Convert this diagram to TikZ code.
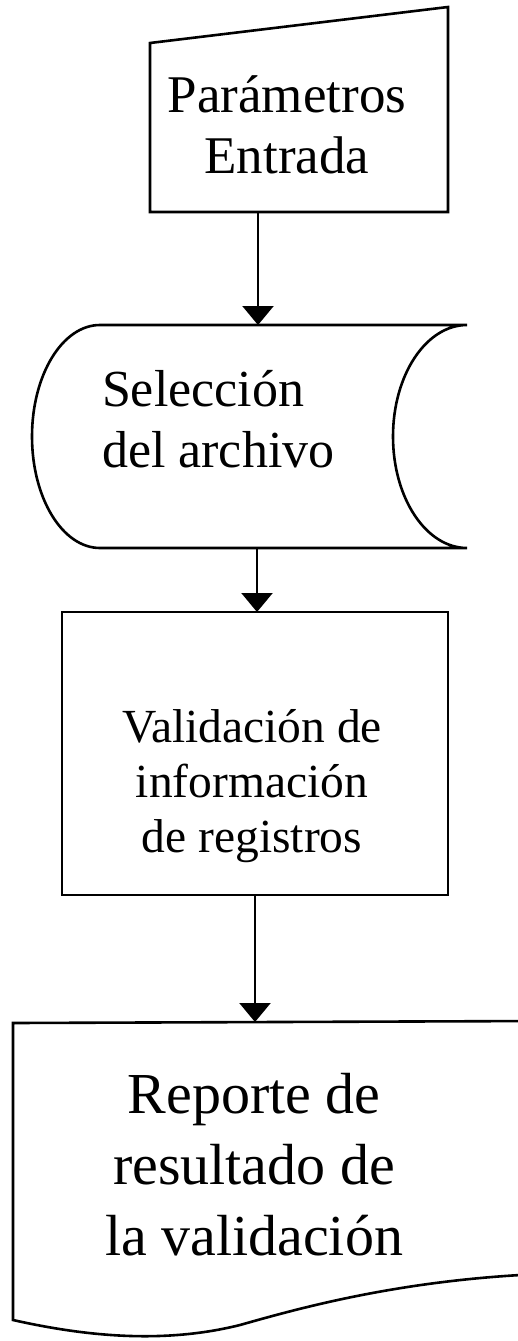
\documentclass[tikz,border=0pt]{standalone}
\usepackage{fontspec}
\setmainfont{Liberation Serif}
\usetikzlibrary{arrows.meta}
\tikzset{
  outline/.style={draw=black, line width=2.6pt, line join=miter},
  frame/.style={inner sep=0pt, outer sep=0pt, draw=none},
  flow/.style={draw=black, line width=2.3pt, -{Triangle[width=31pt,length=19pt]}},
  txt/.style={inner sep=0pt, outer sep=0pt, text=black}
}
\begin{document}
\begin{tikzpicture}[x=1pt,y=1pt]
\useasboundingbox (0,0) rectangle (518,-1341);
\clip (0,0) rectangle (518,-1341);
\fill[white] (0,0) rectangle (518,-1341);

% frames (named geometry of each shape)
\node[frame, minimum width=298pt, minimum height=205pt] (n1) at (299,-109.5) {};
\node[frame, minimum width=435pt, minimum height=223pt] (n2) at (249.5,-436.5) {};
\node[frame, minimum width=386pt, minimum height=283pt] (n3) at (255,-753.5) {};
\node[frame, minimum width=505pt, minimum height=316pt] (n4) at (265.5,-1180) {};

% shape 1: manual input
\draw[outline] (150,-43) -- (448,-7) -- (448,-212) -- (150,-212) -- cycle;

% shape 2: stored data
\draw[outline] (100,-325) -- (467,-325)
  arc[start angle=90, end angle=270, x radius=74, y radius=111.5]
  -- (100,-548)
  arc[start angle=270, end angle=90, x radius=68, y radius=111.5]
  -- cycle;

% shape 3: process
\draw[outline] (62,-612) rectangle (448,-895);

% shape 4: document (right side beyond the page)
\draw[outline] (540,-1021) -- (13,-1023) -- (13,-1320)
  .. controls (80,-1335) and (160,-1345) .. (240,-1325)
  .. controls (300,-1308) and (400,-1280) .. (540,-1274);

% texts
\node[txt, anchor=base] (t1) at (287,-112)
  {\fontsize{53}{61}\selectfont\begin{tabular}[t]{@{}c@{}}Parámetros\\Entrada\end{tabular}};
\node[txt, anchor=base west] (t2) at (102,-406)
  {\fontsize{52}{61}\selectfont\begin{tabular}[t]{@{}l@{}}Selección\\del archivo\end{tabular}};
\node[txt, anchor=base] (t3) at (252,-742)
  {\fontsize{47.5}{55}\selectfont\begin{tabular}[t]{@{}c@{}}Validación de\\información\\de registros\end{tabular}};
\node[txt, anchor=base] (t4) at (254,-1113)
  {\fontsize{58}{71}\selectfont\begin{tabular}[t]{@{}c@{}}Reporte de\\resultado de\\la validación\end{tabular}};

% connectors
\draw[flow] (258,0 |- n1.south) -- (258,0 |- n2.north);
\draw[flow] (257,0 |- n2.south) -- (257,0 |- n3.north);
\draw[flow] (255,0 |- n3.south) -- (255,0 |- n4.north);
\end{tikzpicture}
\end{document}
